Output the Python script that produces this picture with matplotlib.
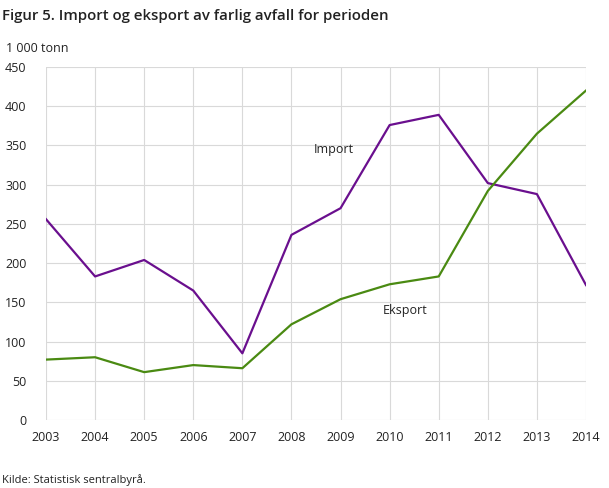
import matplotlib.pyplot as plt

# Data (1 000 tonn)
years = [2003, 2004, 2005, 2006, 2007, 2008, 2009, 2010, 2011, 2012, 2013, 2014]
import_vals = [256, 183, 204, 165, 85, 236, 270, 376, 389, 302, 288, 172]
eksport_vals = [77, 80, 61, 70, 66, 122, 154, 173, 183, 292, 365, 420]

plt.rcParams['font.family'] = ['Open Sans', 'DejaVu Sans']

fig = plt.figure(figsize=(6.09, 4.88), dpi=100)
ax = fig.add_axes([46 / 609, 68 / 488, 540 / 609, 353 / 488])

ax.plot(years, import_vals, color='#6a0f8e', lw=1.6)
ax.plot(years, eksport_vals, color='#4a8a12', lw=1.6)

ax.set_xlim(2003, 2014)
ax.set_ylim(0, 450)
ax.set_xticks(years)
ax.set_yticks(range(0, 451, 50))
ax.grid(True, color='#d9d9d9', lw=0.8)
ax.set_axisbelow(True)
for s in ax.spines.values():
    s.set_visible(False)
ax.tick_params(length=0, labelsize=9, colors='#222222')
ax.tick_params(axis='x', pad=8)
ax.tick_params(axis='y', pad=14)

ax.text(2008.45, 340, 'Import', fontsize=9, color='#222222')
ax.text(2009.85, 135, 'Eksport', fontsize=9, color='#222222')

fig.text(2 / 609, 1 - 16 / 488, 'Figur 5. Import og eksport av farlig avfall for perioden',
         fontsize=10.8, fontweight='semibold', va='center', ha='left', color='#222222')
fig.text(6 / 609, 1 - 48 / 488, '1 000 tonn', fontsize=9, va='center', ha='left', color='#222222')
fig.text(2 / 609, 1 - 480 / 488, 'Kilde: Statistisk sentralbyrå.', fontsize=8, va='center', ha='left',
         color='#222222')

fig.savefig('out.png', dpi=100)
